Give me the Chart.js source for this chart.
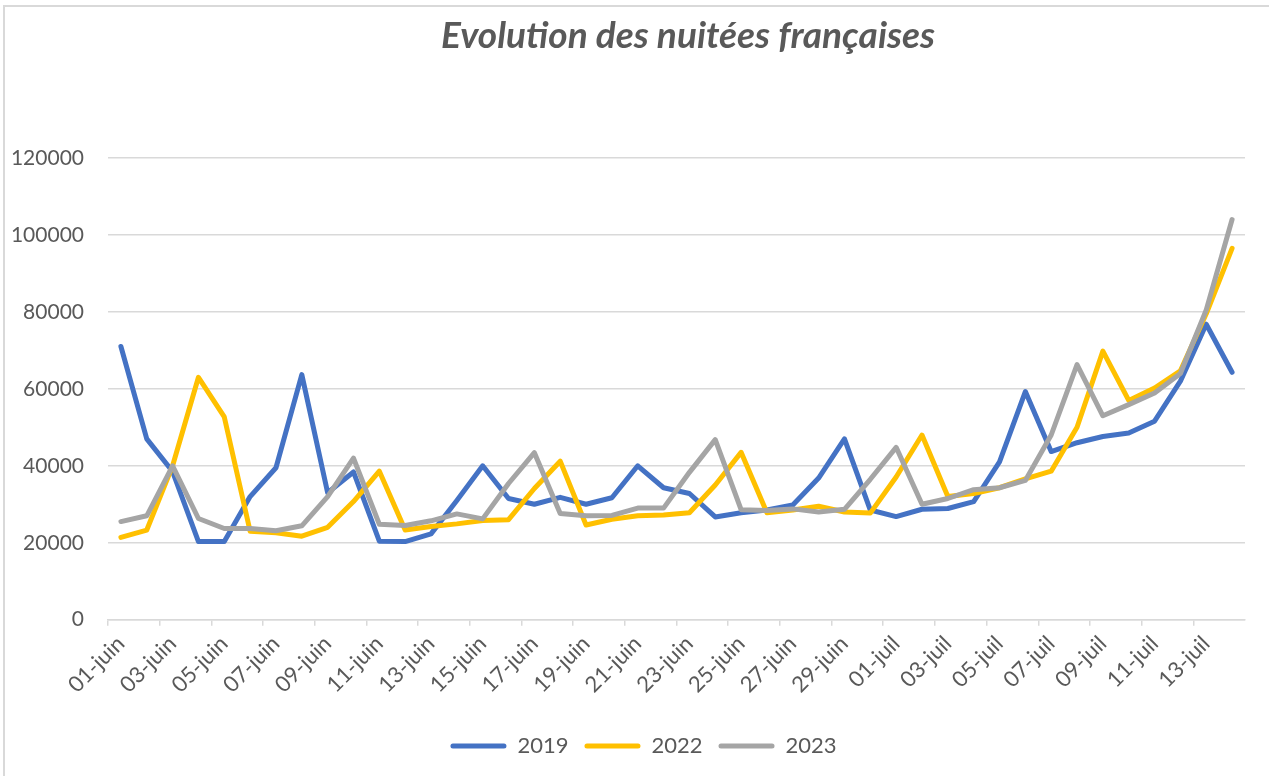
<!DOCTYPE html>
<html lang="fr">
<head>
<meta charset="utf-8">
<title>Evolution des nuitées françaises</title>
<script src="https://cdn.jsdelivr.net/npm/chart.js@4/dist/chart.umd.min.js"></script>
<style>
  html, body { margin: 0; padding: 0; background: #fff; }
  #wrap { position: relative; width: 1269px; height: 776px; }
</style>
</head>
<body>
<div id="wrap"><canvas id="chart" width="1269" height="776"></canvas></div>
<script>
// Nuitées par jour, juin -> mi-juillet
const days = [
  "01-juin", "02-juin", "03-juin", "04-juin", "05-juin", "06-juin", "07-juin", "08-juin",
  "09-juin", "10-juin", "11-juin", "12-juin", "13-juin", "14-juin", "15-juin", "16-juin",
  "17-juin", "18-juin", "19-juin", "20-juin", "21-juin", "22-juin", "23-juin", "24-juin",
  "25-juin", "26-juin", "27-juin", "28-juin", "29-juin", "30-juin",
  "01-juil", "02-juil", "03-juil", "04-juil", "05-juil", "06-juil", "07-juil", "08-juil",
  "09-juil", "10-juil", "11-juil", "12-juil", "13-juil", "14-juil"
];

const nuitees2019 = [
  71000, 47000, 38500, 20300, 20300, 32000, 39500, 63700, 33000, 38400,
  20400, 20300, 22300, 31000, 40000, 31500, 30000, 31800, 30000, 31700,
  40000, 34300, 32800, 26700, 27800, 28500, 29800, 36800, 47000, 28500,
  26800, 28700, 28900, 30700, 41000, 59300, 43700, 46000, 47600, 48500,
  51600, 62000, 76800, 64300
];

const nuitees2022 = [
  21400, 23300, 40000, 63000, 52700, 23000, 22600, 21700, 24000, 30700,
  38600, 23300, 24200, 24900, 25800, 26000, 34100, 41200, 24600, 26100,
  27000, 27200, 27800, 35000, 43500, 27800, 28500, 29500, 28000, 27700,
  37100, 48000, 32000, 32800, 34300, 36600, 38600, 50000, 69800, 57000,
  60200, 64700, 79500, 96500
];

const nuitees2023 = [
  25500, 27000, 40000, 26300, 23700, 23700, 23100, 24400, 32000, 42000,
  24800, 24500, 25700, 27500, 26200, 35400, 43400, 27600, 27000, 27100,
  29000, 29000, 38300, 46800, 28600, 28400, 28800, 28000, 28700, 36500,
  44800, 30000, 31500, 33800, 34300, 36200, 48000, 66300, 53000, 55900,
  58900, 64000, 80500, 104000
];

const yTicks = [0, 20000, 40000, 60000, 80000, 100000, 120000];
const titleText = "Evolution des nuitées françaises";

const FONT = "Lato, 'Open Sans', sans-serif";
const GREY_TXT = "#595959";
const GRID = "#d9d9d9";

// titre + cadre façon Excel, légende décalée comme dans l'original
const decor = {
  id: "decor",
  afterLayout(chart) {
    chart.legend.left += 16;
    chart.legend.right += 16;
  },
  beforeDraw(chart) {
    const c = chart.ctx;
    c.save();
    c.fillStyle = "#fff";
    c.fillRect(0, 0, chart.width, chart.height);
    c.strokeStyle = GRID;
    c.lineWidth = 2;
    c.beginPath();
    c.moveTo(4, chart.height);
    c.lineTo(4, 6);
    c.lineTo(chart.width, 6);
    c.stroke();
    c.restore();
  },
  afterDraw(chart) {
    const c = chart.ctx;
    c.save();
    c.font = "italic bold 37px " + FONT;
    c.fillStyle = GREY_TXT;
    c.textAlign = "center";
    c.textBaseline = "middle";
    c.fillText(titleText, 688, 36);
    c.restore();
  }
};

const line = (label, data, color, order) => ({
  label, data, order,
  borderColor: color,
  backgroundColor: color,
  borderWidth: 5,
  borderJoinStyle: "round",
  borderCapStyle: "round",
  pointRadius: 0,
  pointHoverRadius: 0,
  tension: 0,
  fill: false
});

new Chart(document.getElementById("chart"), {
  type: "line",
  data: {
    labels: days,
    datasets: [
      line("2019", nuitees2019, "#4472C4", 3),
      line("2022", nuitees2022, "#FFC000", 2),
      line("2023", nuitees2023, "#A5A5A5", 1)
    ]
  },
  options: {
    responsive: false,
    animation: false,
    layout: { padding: { left: 10, right: 24, top: 158, bottom: 9 } },
    plugins: {
      title: { display: false },
      tooltip: { enabled: false },
      legend: {
        position: "bottom",
        labels: {
          font: { family: FONT, size: 22 },
          color: GREY_TXT,
          boxWidth: 56,
          boxHeight: 5,
          useBorderRadius: true,
          borderRadius: 2.5,
          padding: 16,
          sort: (a, b) => a.datasetIndex - b.datasetIndex,
          generateLabels: (chart) =>
            Chart.defaults.plugins.legend.labels.generateLabels(chart)
              .map((it) => ({ ...it, lineWidth: 0 }))
        }
      }
    },
    scales: {
      x: {
        offset: true,
        afterFit: (s) => { s.paddingLeft = 0; s.paddingRight = 0; s.height += 16; },
        grid: {
          offset: true,
          drawOnChartArea: false,
          drawTicks: true,
          tickLength: 6,
          lineWidth: 1.5,
          color: (ctx) => (ctx.index % 2 === 0 ? GRID : "rgba(0,0,0,0)")
        },
        border: { display: true, color: GRID, width: 1.5 },
        ticks: {
          autoSkip: false,
          minRotation: 45,
          maxRotation: 45,
          padding: 5,
          color: GREY_TXT,
          font: { family: FONT, size: 22 },
          callback: (v, i) => (i % 2 === 0 ? days[i] : "")
        }
      },
      y: {
        min: 0,
        max: 120000,
        afterBuildTicks: (axis) => { axis.ticks = yTicks.map((v) => ({ value: v })); },
        afterFit: (s) => { s.width = 98; },
        grid: { color: GRID, lineWidth: 1.5, drawTicks: false },
        border: { display: false },
        ticks: {
          padding: 24,
          color: GREY_TXT,
          font: { family: FONT, size: 21 },
          callback: (v) => String(v)
        }
      }
    }
  },
  plugins: [decor]
});
</script>
</body>
</html>
